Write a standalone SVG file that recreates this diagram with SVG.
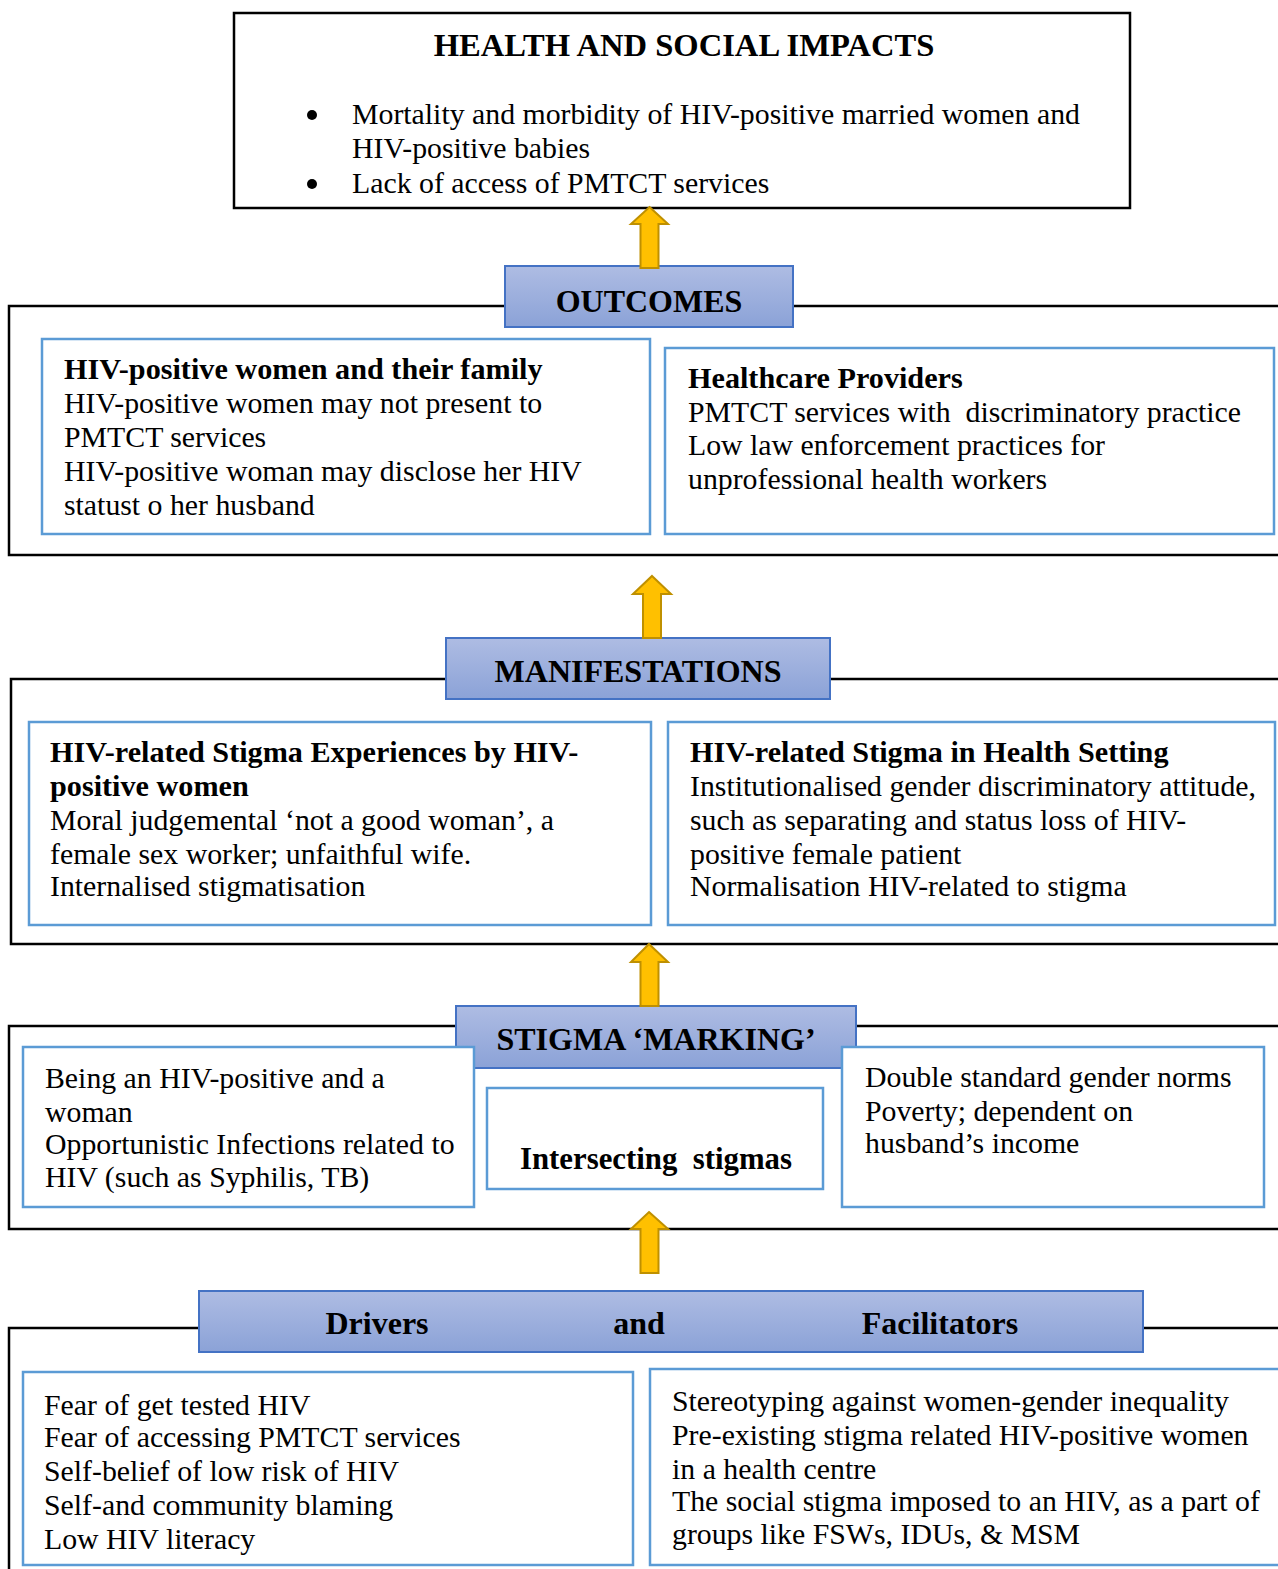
<svg xmlns="http://www.w3.org/2000/svg" width="1278" height="1569" viewBox="0 0 1278 1569">
<defs>
<linearGradient id="hdr" x1="0" y1="0" x2="0" y2="1">
<stop offset="0" stop-color="#AEBCE3"/>
<stop offset="1" stop-color="#8BA2D7"/>
</linearGradient>
<style>
text{font-family:"Liberation Serif","Times New Roman",serif;fill:#000;white-space:pre}
.t{font-size:29.8px}
.b{font-size:30.2px;font-weight:bold}
.h{font-size:32px;font-weight:bold}
.outer{fill:none;stroke:#000;stroke-width:2.5}
.inner{fill:#fff;stroke:#5B9BD5;stroke-width:2.5}
.hbox{fill:url(#hdr);stroke:#4472C4;stroke-width:2}
.arrow{fill:#FFC000;stroke:#BF9000;stroke-width:2}
</style>
</defs>
<rect width="1278" height="1569" fill="#fff"/>

<g id="impacts">
<rect class="outer" x="234" y="13" width="896" height="195" fill="#fff"/>
<text class="h" x="684" y="56" text-anchor="middle" style="font-size:32.6px">HEALTH AND SOCIAL IMPACTS</text>
<circle cx="312" cy="115" r="5"/>
<text class="t" x="352" y="124">Mortality and morbidity of HIV-positive married women and</text>
<text class="t" x="352" y="158">HIV-positive babies</text>
<circle cx="312" cy="184" r="5"/>
<text class="t" x="352" y="193">Lack of access of PMTCT services</text>
</g>

<g id="outcomes">
<rect class="outer" x="9" y="306" width="1300" height="249"/>
<rect class="hbox" x="505" y="266" width="288" height="61"/>
<text class="h" x="649" y="312" text-anchor="middle">OUTCOMES</text>
</g>
<g id="outcome-women">
<rect class="inner" x="42" y="339" width="608" height="195"/>
<text class="b" x="64" y="379">HIV-positive women and their family</text>
<text class="t" x="64" y="413">HIV-positive women may not present to</text>
<text class="t" x="64" y="447">PMTCT services</text>
<text class="t" x="64" y="481">HIV-positive woman may disclose her HIV</text>
<text class="t" x="64" y="515">statust o her husband</text>
</g>
<g id="outcome-providers">
<rect class="inner" x="665" y="348" width="609" height="186"/>
<text class="b" x="688" y="388">Healthcare Providers</text>
<text class="t" x="688" y="422">PMTCT services with  discriminatory practice</text>
<text class="t" x="688" y="455">Low law enforcement practices for</text>
<text class="t" x="688" y="489">unprofessional health workers</text>
</g>

<g id="manifestations">
<rect class="outer" x="11" y="679" width="1300" height="265"/>
<rect class="hbox" x="446" y="638" width="384" height="61"/>
<text class="h" x="638" y="682" text-anchor="middle">MANIFESTATIONS</text>
</g>
<g id="manif-women">
<rect class="inner" x="29" y="722" width="622" height="203"/>
<text class="b" x="50" y="762">HIV-related Stigma Experiences by HIV-</text>
<text class="b" x="50" y="796">positive women</text>
<text class="t" x="50" y="830">Moral judgemental ‘not a good woman’, a</text>
<text class="t" x="50" y="864">female sex worker; unfaithful wife.</text>
<text class="t" x="50" y="896">Internalised stigmatisation</text>
</g>
<g id="manif-health">
<rect class="inner" x="668" y="722" width="607" height="203"/>
<text class="b" x="690" y="762">HIV-related Stigma in Health Setting</text>
<text class="t" x="690" y="796">Institutionalised gender discriminatory attitude,</text>
<text class="t" x="690" y="830">such as separating and status loss of HIV-</text>
<text class="t" x="690" y="864">positive female patient</text>
<text class="t" x="690" y="896">Normalisation HIV-related to stigma</text>
</g>

<g id="stigma-marking">
<rect class="outer" x="9" y="1026" width="1300" height="203"/>
<rect class="hbox" x="456" y="1006" width="400" height="62"/>
<text class="h" x="656" y="1050" text-anchor="middle">STIGMA ‘MARKING’</text>
</g>
<g id="marking-left">
<rect class="inner" x="23" y="1047" width="451" height="160"/>
<text class="t" x="45" y="1088">Being an HIV-positive and a</text>
<text class="t" x="45" y="1122">woman</text>
<text class="t" x="45" y="1154">Opportunistic Infections related to</text>
<text class="t" x="45" y="1187">HIV (such as Syphilis, TB)</text>
</g>
<g id="marking-middle">
<rect class="inner" x="487" y="1088" width="336" height="101"/>
<text class="b" x="656" y="1169" text-anchor="middle" style="font-size:30.8px">Intersecting  stigmas</text>
</g>
<g id="marking-right">
<rect class="inner" x="842" y="1047" width="422" height="160"/>
<text class="t" x="865" y="1087">Double standard gender norms</text>
<text class="t" x="865" y="1121">Poverty; dependent on</text>
<text class="t" x="865" y="1153">husband’s income</text>
</g>

<g id="drivers">
<rect class="outer" x="9" y="1328" width="1300" height="300"/>
<rect class="hbox" x="199" y="1291" width="944" height="61"/>
<text class="h" x="377" y="1334" text-anchor="middle">Drivers</text>
<text class="h" x="639" y="1334" text-anchor="middle">and</text>
<text class="h" x="940" y="1334" text-anchor="middle">Facilitators</text>
</g>
<g id="drivers-left">
<rect class="inner" x="23" y="1372" width="610" height="193"/>
<text class="t" x="44" y="1415">Fear of get tested HIV</text>
<text class="t" x="44" y="1447">Fear of accessing PMTCT services</text>
<text class="t" x="44" y="1481">Self-belief of low risk of HIV</text>
<text class="t" x="44" y="1515">Self-and community blaming</text>
<text class="t" x="44" y="1549">Low HIV literacy</text>
</g>
<g id="drivers-right">
<rect class="inner" x="650" y="1369" width="660" height="196"/>
<text class="t" x="672" y="1411">Stereotyping against women-gender inequality</text>
<text class="t" x="672" y="1445">Pre-existing stigma related HIV-positive women</text>
<text class="t" x="672" y="1479">in a health centre</text>
<text class="t" x="672" y="1511">The social stigma imposed to an HIV, as a part of</text>
<text class="t" x="672" y="1544">groups like FSWs, IDUs, &amp; MSM</text>
</g>

<g id="connectors">
<path class="arrow" d="M649.5,207 L668,224 L658.5,224 L658.5,268 L640.5,268 L640.5,224 L631,224 Z"/>
<path class="arrow" d="M652,576 L671,594 L661,594 L661,638 L643,638 L643,594 L633,594 Z"/>
<path class="arrow" d="M649,944 L668,962 L658.5,962 L658.5,1006 L640.5,1006 L640.5,962 L631,962 Z"/>
<path class="arrow" d="M649,1212 L668,1229 L658.5,1229 L658.5,1273 L640.5,1273 L640.5,1229 L631,1229 Z"/>
</g>
</svg>
